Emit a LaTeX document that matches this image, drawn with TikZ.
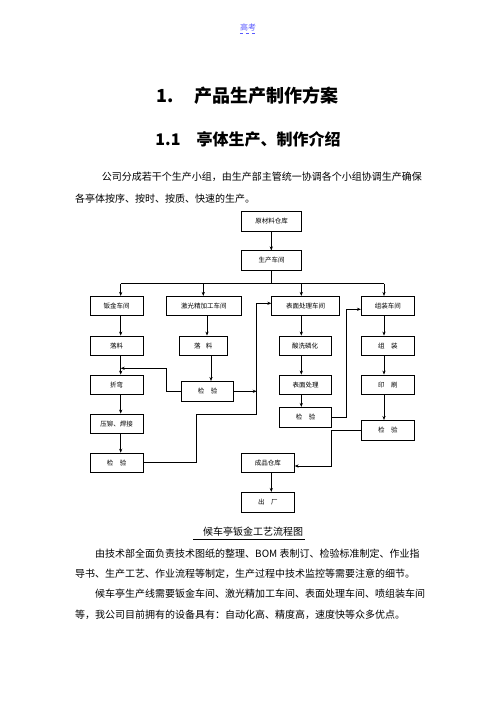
\documentclass[tikz,border=0pt]{standalone}
\usepackage{fontspec}
\setmainfont{Noto Sans CJK SC}
\usetikzlibrary{arrows.meta}
\tikzset{
  box/.style={rectangle, draw=black, line width=0.7pt, inner sep=0pt,
    minimum height=19.5pt, font=\fontsize{6.5}{7}\selectfont},
  line/.style={line width=0.7pt},
  arr/.style={line width=0.7pt, -{Stealth[length=4pt,width=3.2pt]}},
  txt/.style={inner sep=0pt, anchor=west, font=\fontsize{10}{12}\selectfont}
}

\begin{document}
\begin{tikzpicture}[x=1pt, y=-1pt]
        \useasboundingbox (0,0) rectangle (496,702);

        % header and headings
        \node[inner sep=0pt, text=blue!65, font=\fontsize{8}{9}\selectfont] (hd) at (248,27) {高考};
        \draw[blue!65, dashed, line width=0.5pt] ([yshift=-2pt]hd.south west) -- ([yshift=-2pt]hd.south east);
        \node[inner sep=0pt, font=\bfseries\fontsize{18}{20}\selectfont] (title) at (247.5,96) {1.\hspace{20pt}产品生产制作方案};
        \node[inner sep=0pt, font=\bfseries\fontsize{16}{18}\selectfont] (sub) at (248,139.3) {1.1\hspace{16pt}亭体生产、制作介绍};

        \node[txt] (p1) at (101.7,176.7) {公司分成若干个生产小组，由生产部主管统一协调各个小组协调生产确保};
        \node[txt] (p2) at (75,199) {各亭体按序、按时、按质、快速的生产。};

        % flow chart
        \node[box, minimum width=60pt] (raw) at (271.7,221.5) {原材料仓库};
        \node[box, minimum width=60pt] (prod) at (271.7,260.5) {生产车间};

        \node[box, minimum width=53.3pt] (banjin) at (116.7,306) {钣金车间};
        \node[box, minimum width=75pt] (laser) at (203.8,306) {激光精加工车间};
        \node[box, minimum width=67.6pt] (surf) at (305.5,306) {表面处理车间};
        \node[box, minimum width=53pt] (asm) at (387.8,306) {组装车间};

        \node[box, minimum width=53.3pt] (ll1) at (116.7,345.7) {落料};
        \node[box, minimum width=53.3pt] (zw) at (116.7,384.7) {折弯};
        \node[box, minimum width=53.3pt] (ym) at (116.7,423.7) {压铆、焊接};
        \node[box, minimum width=53.3pt] (jy1) at (116.7,462.8) {检\quad 验};

        \node[box, minimum width=48pt] (ll2) at (203.3,345.7) {落\hspace{0.8em}料};
        \node[box, minimum width=52.4pt, minimum height=20pt] (jy2) at (207.5,391.3) {检\quad 验};

        \node[box, minimum width=51.7pt] (sx) at (305.2,345.7) {酸洗磷化};
        \node[box, minimum width=52.4pt] (bm) at (305.5,384.7) {表面处理};
        \node[box, minimum width=52.4pt, minimum height=20pt] (jy3) at (305.5,417.3) {检\quad 验};

        \node[box, minimum width=53pt] (zz) at (387.8,345.7) {组\quad 装};
        \node[box, minimum width=53pt] (ys) at (387.8,384.7) {印\quad 刷};
        \node[box, minimum width=53pt, minimum height=20pt] (jy4) at (387.8,430.3) {检\quad 验};

        \node[box, minimum width=53pt] (cp) at (267.8,462.8) {成品仓库};
        \node[box, minimum width=53pt, minimum height=20pt] (cc) at (267.8,502.3) {出\quad 厂};

        \coordinate (c0) at (271.3,0);
        \coordinate (c1) at (120.7,0);
        \coordinate (c2a) at (203.3,0);
        \coordinate (c2b) at (207,0);
        \coordinate (c2c) at (211,0);
        \coordinate (c3) at (301.3,0);
        \coordinate (c4) at (384,0);
        \coordinate (busl) at (120.7,283.7);
        \coordinate (busr) at (384,283.7);

        \draw[arr] (raw.south -| c0) -- (prod.north -| c0);
        \draw[line] (prod.south -| c0) -- (c0 |- busl);
        \draw[line] (busl) -- (busr);
        \foreach \c/\to in {c1/banjin, c2a/laser, c3/surf, c4/asm}
          \draw[arr] (\c |- busl) -- (\to.north -| \c);

        \foreach \from/\to/\c in {
          banjin/ll1/c1, ll1/zw/c1, zw/ym/c1, ym/jy1/c1,
          laser/ll2/c2b, ll2/jy2/c2c,
          surf/sx/c3, sx/bm/c3, bm/jy3/c3,
          asm/zz/c4, zz/ys/c4, ys/jy4/c4,
          cp/cc/c0}
          \draw[arr] (\from.south -| \c) -- (\to.north -| \c);

        % return lines
        \coordinate (m1) at (166.3,368.3);
        \coordinate (k1) at (196,414);
        \coordinate (v1) at (256.7,303.3);
        \coordinate (v2) at (346.3,309.3);
        \coordinate (v3) at (331.7,466);
        \draw[arr] (jy2.west) -| (m1) -- (m1 -| c1);
        \draw[arr] (jy2.east) -- (jy2.east -| v1);
        \draw[arr] (jy1.east) -| (k1) -| (v1) -- (v1 -| surf.west);
        \draw[arr] (jy3.east) -| (v2) -- (v2 -| asm.west);
        \draw[arr] (jy4.west) -| (v3) -- (v3 -| cp.east);

        % caption and text below
        \node[txt, anchor=center] (cap) at (253,532) {候车亭钣金工艺流程图};
        \draw[line width=1pt] (193,539.5) -- (305,539.5);

        \node[txt] (q1) at (95,553.3) {由技术部全面负责技术图纸的整理、BOM 表制订、检验标准制定、作业指};
        \node[txt] (q2) at (75,573.3) {导书、生产工艺、作业流程等制定，生产过程中技术监控等需要注意的细节。};
        \node[txt] (q3) at (95,594) {候车亭生产线需要钣金车间、激光精加工车间、表面处理车间、喷组装车间};
        \node[txt] (q4) at (75,615) {等，我公司目前拥有的设备具有：自动化高、精度高，速度快等众多优点。};
      \end{tikzpicture}
\end{document}
